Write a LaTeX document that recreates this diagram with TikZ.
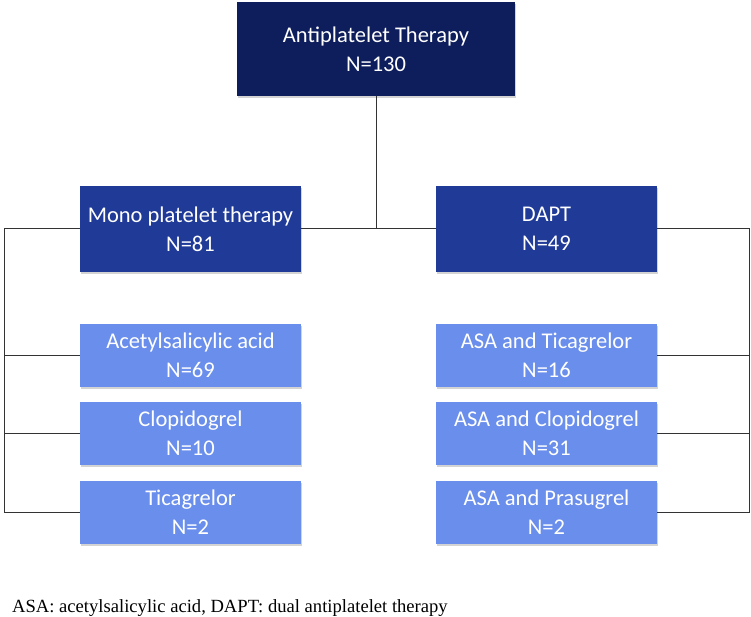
\documentclass[tikz,border=0pt]{standalone}
\usepackage{fontspec}
\setmainfont{Carlito}
\newfontfamily\capfont{Liberation Serif}
\usetikzlibrary{shadows}
\definecolor{navy}{RGB}{14,30,92}
\definecolor{midblue}{RGB}{32,58,152}
\definecolor{lightblue}{RGB}{106,142,236}
\begin{document}
\begin{tikzpicture}[x=1pt,y=-1pt,
  box/.style={rectangle, minimum width=221pt, align=center, text=white, font=\fontsize{22.5}{29}\selectfont, inner sep=0pt, drop shadow={shadow xshift=1pt, shadow yshift=-2pt, opacity=0.35}},
  topbox/.style={box, fill=navy, minimum width=278pt, minimum height=94pt},
  midbox/.style={box, fill=midblue, minimum height=86pt},
  leafbox/.style={box, fill=lightblue, minimum height=63pt},
  conn/.style={draw=black!80, line width=1pt}]
\useasboundingbox (0,0) rectangle (751,617);
\node[topbox] (top) at (376,49) {Antiplatelet Therapy\\N=130};
\node[midbox] (mono) at (190.5,229) {Mono platelet therapy\\N=81};
\node[midbox] (dapt) at (546.5,229) {DAPT\\N=49};
\node[leafbox] (asa) at (190.5,355.5) {Acetylsalicylic acid\\N=69};
\node[leafbox] (clo) at (190.5,433.5) {Clopidogrel\\N=10};
\node[leafbox] (tic) at (190.5,512.5) {Ticagrelor\\N=2};
\node[leafbox] (at) at (546.5,355.5) {ASA and Ticagrelor\\N=16};
\node[leafbox] (ac) at (546.5,433.5) {ASA and Clopidogrel\\N=31};
\node[leafbox] (ap) at (546.5,512.5) {ASA and Prasugrel\\N=2};
\coordinate (L) at (4,229);
\coordinate (R) at (749,229);
\draw[conn] (mono.east) -- (dapt.west);
\draw[conn] (top.south) -- (top.south |- mono.east);
\draw[conn] (mono.west) -- (L) -- (L |- tic.west) -- (tic.west);
\draw[conn] (L |- asa.west) -- (asa.west);
\draw[conn] (L |- clo.west) -- (clo.west);
\draw[conn] (dapt.east) -- (R) -- (R |- ap.east) -- (ap.east);
\draw[conn] (R |- at.east) -- (at.east);
\draw[conn] (R |- ac.east) -- (ac.east);
\node[anchor=base west, inner sep=0pt, font=\capfont\fontsize{18.6}{21}\selectfont] (cap) at (12,612) {ASA: acetylsalicylic acid, DAPT: dual antiplatelet therapy};
\end{tikzpicture}
\end{document}
